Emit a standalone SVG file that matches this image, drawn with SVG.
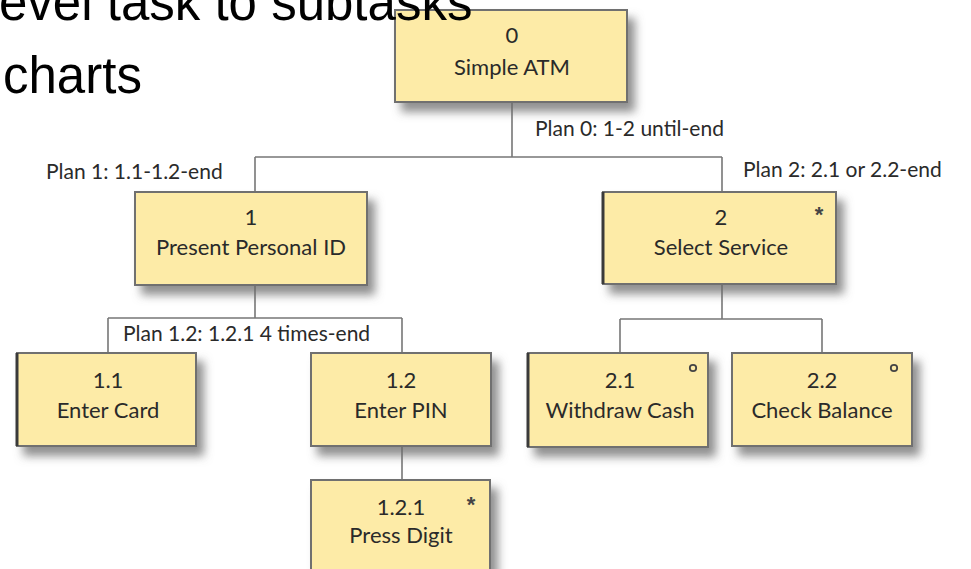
<svg xmlns="http://www.w3.org/2000/svg" width="971" height="569" viewBox="0 0 971 569">
<defs>
<filter id="sh" x="-10%" y="-10%" width="130%" height="140%">
<feDropShadow dx="7" dy="9" stdDeviation="5" flood-color="#6a6a6a" flood-opacity="0.75"/>
</filter>
<style>
.box{fill:#fdeba7;stroke:#707070;stroke-width:2;filter:url(#sh)}
.edge{stroke:#3a3a3a;stroke-width:3}
.t{font-family:Lato,"Open Sans",sans-serif;font-size:22px;fill:#2a2a2a;text-anchor:middle}
.pl{font-family:Lato,"Open Sans",sans-serif;font-size:21px;fill:#2a2a2a}
.mk{font-family:"Liberation Sans",sans-serif;font-size:22px;font-weight:bold;fill:#444;text-anchor:middle}
.c{fill:none;stroke:#777;stroke-width:1.6}
.dot{fill:none;stroke:#444;stroke-width:1.8}
.title{font-family:"Liberation Sans",Arial,sans-serif;font-size:51px;fill:#000}
</style>
</defs>
<rect width="971" height="569" fill="#fff"/>
<g id="connectors">
<path class="c" d="M512 102V157M255 157H722M255 157V192M722 157V192"/>
<path class="c" d="M255 285V318M108 318H402M108 318V353M402 318V353"/>
<path class="c" d="M722 285V319M620 319H822M620 319V353M822 319V353"/>
<path class="c" d="M402 446V480"/>
</g>
<g id="labels">
<text class="pl" x="535" y="136">Plan 0: 1-2 until-end</text>
<text class="pl" x="46" y="179">Plan 1: 1.1-1.2-end</text>
<text class="pl" x="743" y="177">Plan 2: 2.1 or 2.2-end</text>
<text class="pl" x="123" y="341">Plan 1.2: 1.2.1 4 times-end</text>
</g>
<g id="n0">
<rect class="box" x="395" y="10" width="232" height="92"/>
<text class="t" x="512" y="43">0</text>
<text class="t" x="512" y="75">Simple ATM</text>
</g>
<g id="n1">
<rect class="box" x="135" y="192" width="232" height="93"/>
<text class="t" x="251" y="225">1</text>
<text class="t" x="251" y="255">Present Personal ID</text>
</g>
<g id="n2">
<rect class="box" x="603" y="192" width="233" height="92"/>
<line class="edge" x1="603" y1="192" x2="603" y2="284"/>
<text class="t" x="721" y="225">2</text>
<text class="t" x="721" y="255">Select Service</text>
<text class="mk" x="819" y="222">*</text>
</g>
<g id="n11">
<rect class="box" x="17" y="353" width="179" height="93"/>
<line class="edge" x1="17" y1="353" x2="17" y2="446"/>
<text class="t" x="108" y="388">1.1</text>
<text class="t" x="108" y="418">Enter Card</text>
</g>
<g id="n12">
<rect class="box" x="311" y="353" width="180" height="93"/>
<text class="t" x="401" y="388">1.2</text>
<text class="t" x="401" y="418">Enter PIN</text>
</g>
<g id="n121">
<rect class="box" x="311" y="480" width="179" height="110"/>
<text class="t" x="401" y="515">1.2.1</text>
<text class="t" x="401" y="543">Press Digit</text>
<text class="mk" x="471" y="512">*</text>
</g>
<g id="n21">
<rect class="box" x="528" y="353" width="180" height="94"/>
<line class="edge" x1="528" y1="353" x2="528" y2="447"/>
<text class="t" x="620" y="388">2.1</text>
<text class="t" x="620" y="418">Withdraw Cash</text>
<circle class="dot" cx="693" cy="368" r="3.2"/>
</g>
<g id="n22">
<rect class="box" x="732" y="353" width="180" height="93"/>
<text class="t" x="822" y="388">2.2</text>
<text class="t" x="822" y="418">Check Balance</text>
<circle class="dot" cx="894" cy="368" r="3.2"/>
</g>
<g id="title">
<text class="title" x="-1" y="20">evel task to subtasks</text>
<text class="title" x="3" y="93">charts</text>
</g>
</svg>
